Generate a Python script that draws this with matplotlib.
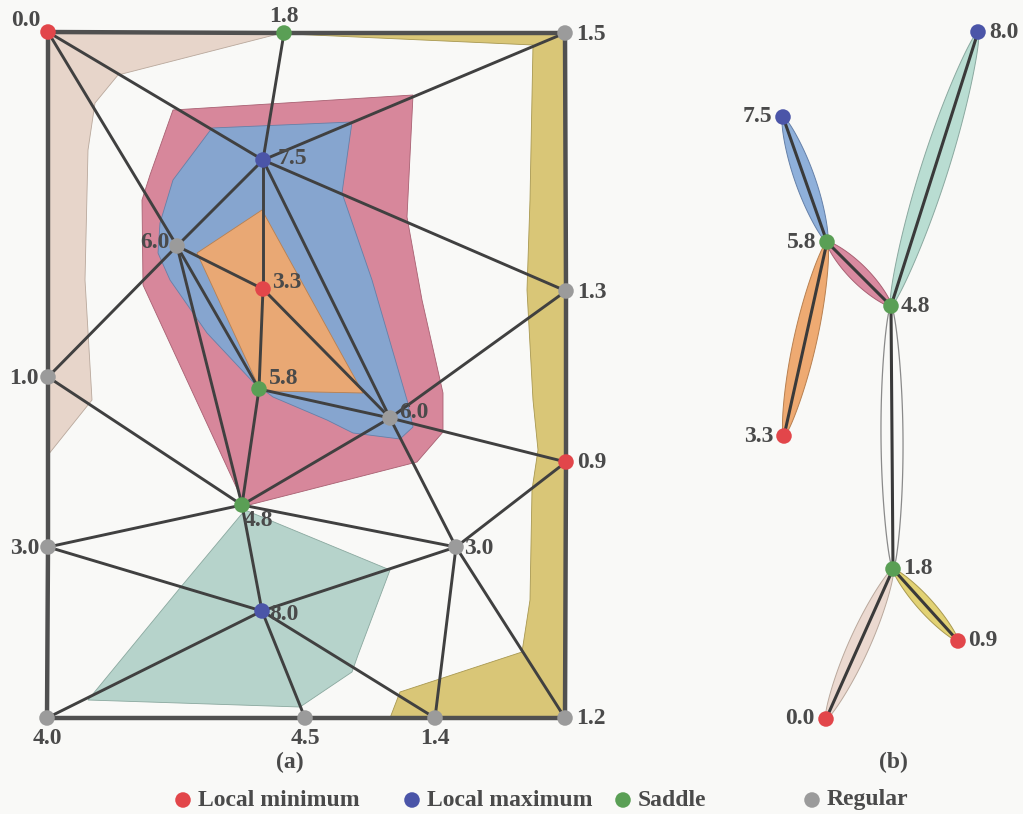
import numpy as np
import matplotlib
matplotlib.use("Agg")
import matplotlib.pyplot as plt
from matplotlib.patches import Polygon

# ---------------- mesh (a) ----------------
# vertex positions in the drawing plane and scalar values
mesh_x = [48, 284, 565, 263, 177, 263, 566, 48, 259, 390, 566, 242, 48, 456, 262, 47, 305, 435, 565]
mesh_y = [32, 33, 33, 160, 246, 289, 291, 377, 389, 418, 462, 505, 547, 547, 611, 718, 718, 718, 718]
mesh_val = [0.0, 1.8, 1.5, 7.5, 6.0, 3.3, 1.3, 1.0, 5.8, 6.0, 0.9, 4.8, 3.0, 3.0, 8.0, 4.0, 4.5, 1.4, 1.2]
mesh_kind = ["min", "saddle", "reg", "max", "reg", "min", "reg", "reg", "saddle", "reg",
             "min", "saddle", "reg", "reg", "max", "reg", "reg", "reg", "reg"]
# label placement: (dx, dy, ha)
mesh_lab = [(-8, -12, "right"), (0, -17, "center"), (11, 2, "left"), (15, -2, "left"),
            (-7, -3, "right"), (9, -7, "left"), (11, 1, "left"), (-9, 1, "right"),
            (10, -11, "left"), (9, -6, "left"), (11, 1, "left"), (2, 16, "left"),
            (-9, 1, "right"), (8, 1, "left"), (7, 4, "left"), (0, 21, "center"),
            (0, 21, "center"), (0, 21, "center"), (11, 1, "left")]

boundary = [0, 1, 2, 6, 10, 18, 17, 16, 15, 12, 7, 0]
inner_edges = [(0, 3), (0, 4), (1, 3), (2, 3), (3, 6), (3, 4), (3, 5), (3, 9),
               (4, 5), (4, 7), (4, 8), (4, 11), (5, 8), (5, 9), (8, 9), (8, 11),
               (9, 11), (7, 11), (12, 11), (11, 13), (11, 14), (12, 14), (15, 14),
               (16, 14), (14, 17), (14, 13), (13, 17), (13, 18), (13, 10), (13, 9),
               (9, 10), (9, 6)]

# feature regions (contour-tree arcs) drawn on the mesh
regions = {
    "beige": ([48, 282, 118, 95, 88, 85, 92, 48],
              [32, 33, 75, 103, 150, 280, 400, 455]),
    "yellow": ([290, 565, 565, 390, 400, 522, 530, 532, 538, 533, 527, 530, 533],
               [34, 33, 718, 718, 692, 652, 600, 490, 450, 400, 290, 200, 45]),
    "pink": ([173, 413, 407, 422, 443, 443, 417, 300, 245, 143, 142, 150],
             [110, 95, 217, 300, 393, 432, 462, 492, 506, 285, 200, 175]),
    "blue": ([212, 352, 342, 372, 407, 413, 400, 353, 327, 273, 253, 207, 170, 158, 160, 173],
             [128, 122, 193, 280, 400, 427, 439, 433, 420, 397, 382, 333, 280, 253, 223, 180]),
    "orange": ([262, 197, 257, 268, 363],
               [210, 253, 383, 391, 393]),
    "teal": ([245, 390, 358, 352, 300, 88, 180],
             [510, 570, 655, 672, 707, 700, 588]),
}
region_fill = {"beige": "#e7d5ca", "yellow": "#d9c677", "pink": "#d7879b",
               "blue": "#86a5cf", "orange": "#e9a874", "teal": "#b6d3cb"}
region_edge = {"beige": "#b9a89c", "yellow": "#a89850", "pink": "#a86072",
               "blue": "#6580a8", "orange": "#b88050", "teal": "#8aa89f"}

# ---------------- contour tree (b) ----------------
tree_x = [978, 783, 827, 891, 784, 893, 958, 826]
tree_y = [32, 117, 242, 306, 436, 569, 641, 719]
tree_val = [8.0, 7.5, 5.8, 4.8, 3.3, 1.8, 0.9, 0.0]
tree_kind = ["max", "max", "saddle", "saddle", "min", "saddle", "min", "min"]
tree_lab = [(11, 0, "left"), (-11, 0, "right"), (-11, 0, "right"), (10, 0, "left"),
            (-11, 0, "right"), (10, 0, "left"), (10, 0, "left"), (-11, 0, "right")]
tree_arcs = [(0, 3, "teal", 27), (1, 2, "blue", 20), (2, 4, "orange", 23),
             (2, 3, "pink", 18), (3, 5, None, 22), (5, 7, "beige", 21), (5, 6, "yellow", 15)]
tree_fill = {"beige": "#ebd9d0", "yellow": "#e2d274", "pink": "#d98aa0",
             "blue": "#8fb0da", "orange": "#eeaa72", "teal": "#b9ddd2"}

kind_color = {"min": "#e2464a", "max": "#4b55a8", "saddle": "#5a9f55", "reg": "#9b9b9b"}
legend_items = [("min", "Local minimum"), ("max", "Local maximum"),
                ("saddle", "Saddle"), ("reg", "Regular")]
legend_x = [183, 412, 623, 812]

TXT = "#4a4a4a"
FONT = "Liberation Serif"
FS = 17

fig = plt.figure(figsize=(10.23, 8.14), dpi=100)
fig.patch.set_facecolor("#f9f9f7")
ax = fig.add_axes([0, 0, 1, 1])
ax.set_xlim(0, 1023)
ax.set_ylim(814, 0)
ax.axis("off")

# regions
for name, (rx, ry) in regions.items():
    ax.add_patch(Polygon(np.column_stack([rx, ry]), closed=True,
                         facecolor=region_fill[name], edgecolor=region_edge[name],
                         linewidth=0.6, zorder=1))

mx = np.array(mesh_x, float)
my = np.array(mesh_y, float)
for a, b in inner_edges:
    ax.plot([mx[a], mx[b]], [my[a], my[b]], color="#404040", lw=2.1,
            solid_capstyle="round", zorder=2)
ax.plot(mx[boundary], my[boundary], color="#505050", lw=3.2,
        solid_joinstyle="miter", zorder=2)

for i in range(len(mesh_x)):
    ax.scatter(mx[i], my[i], s=125, color=kind_color[mesh_kind[i]],
               edgecolor="none", zorder=4)
    dx, dy, ha = mesh_lab[i]
    ax.text(mx[i] + dx, my[i] + dy, f"{mesh_val[i]:.1f}", ha=ha, va="center",
            fontsize=FS, fontweight="bold", family=FONT, color=TXT, zorder=5)

# contour tree lenses
tx = np.array(tree_x, float)
ty = np.array(tree_y, float)
s = np.linspace(0, 1, 160)
for a, b, name, w in tree_arcs:
    p0 = np.array([tx[a], ty[a]])
    p1 = np.array([tx[b], ty[b]])
    d = p1 - p0
    n = np.array([-d[1], d[0]]) / np.hypot(*d)
    half = 0.5 * w * np.sin(np.pi * s) ** 0.6
    upper = p0 + np.outer(s, d) + np.outer(half, n)
    lower = p0 + np.outer(s[::-1], d) - np.outer(half[::-1], n)
    pts = np.vstack([upper, lower])
    if name is None:
        ax.add_patch(Polygon(pts, closed=True, facecolor="none",
                             edgecolor="#8a8a8a", linewidth=0.9, zorder=1))
    else:
        ax.add_patch(Polygon(pts, closed=True, facecolor=tree_fill[name],
                             edgecolor=region_edge[name], linewidth=0.7, zorder=1))
    ax.plot([p0[0], p1[0]], [p0[1], p1[1]], color="#3a3a3a", lw=2.2, zorder=2)

for i in range(len(tree_x)):
    ax.scatter(tx[i], ty[i], s=125, color=kind_color[tree_kind[i]],
               edgecolor="none", zorder=4)
    dx, dy, ha = tree_lab[i]
    ax.text(tx[i] + dx, ty[i] + dy, f"{tree_val[i]:.1f}", ha=ha, va="center",
            fontsize=FS, fontweight="bold", family=FONT, color=TXT, zorder=5)

# panel captions
ax.text(290, 762, "(a)", ha="center", va="center", fontsize=FS,
        fontweight="bold", family=FONT, color=TXT)
ax.text(893, 762, "(b)", ha="center", va="center", fontsize=FS,
        fontweight="bold", family=FONT, color=TXT)

# legend
for (kind, label), lx in zip(legend_items, legend_x):
    ax.scatter(lx, 800, s=125, color=kind_color[kind], edgecolor="none", zorder=4)
    ax.text(lx + 15, 800, label, ha="left", va="center", fontsize=FS,
            fontweight="bold", family=FONT, color=TXT)

fig.savefig("out.png", dpi=100, facecolor=fig.get_facecolor())
